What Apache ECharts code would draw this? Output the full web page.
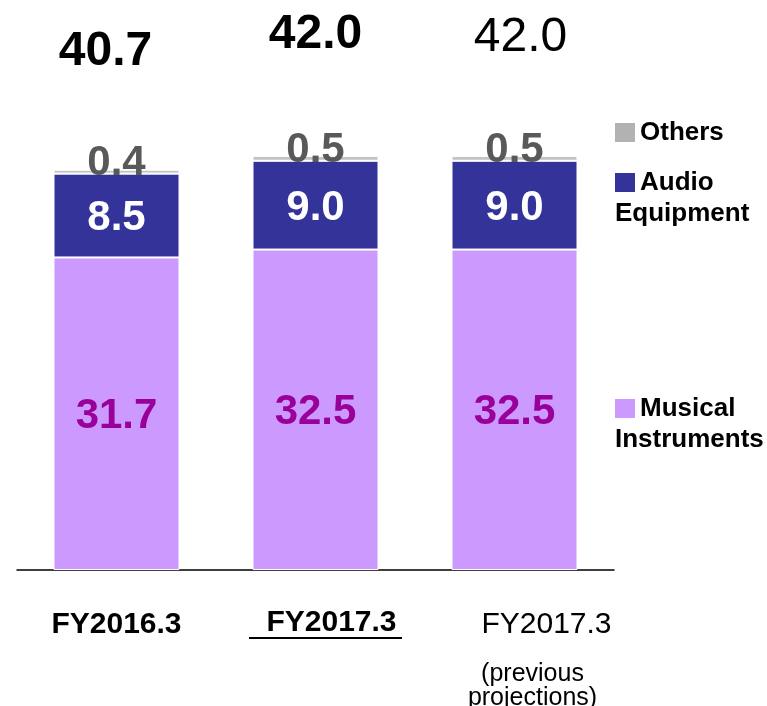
<!DOCTYPE html>
<html>
<head>
<meta charset="utf-8">
<script src="https://cdn.jsdelivr.net/npm/echarts@6/dist/echarts.min.js"></script>
<style>
  html, body { margin: 0; padding: 0; background: #fff; }
  #main { width: 767px; height: 706px; }
</style>
</head>
<body>
<div id="main"></div>
<script>
// 数据
var categories = ['FY2016.3', 'FY2017.3', 'FY2017.3'];
var musical = [31.7, 32.5, 32.5];
var audio = [8.5, 9.0, 9.0];
var others = [0.4, 0.5, 0.5];
var totals = [40.7, 42.0, 42.0];
var seriesNames = ['Others', 'Audio Equipment', 'Musical Instruments'];

var FONT = '"Liberation Sans", Arial, sans-serif';
var colors = {
    musical: '#cc99ff',
    audio: '#333399',
    others: '#c4c4c4',
    othersKey: '#b2b2b2'
};

var fmt = function(p){ return p.value.toFixed(1); };

var segLabel = function(color, offset){
    return {
        show: true,
        position: 'inside',
        formatter: fmt,
        color: color,
        fontFamily: FONT,
        fontWeight: 'bold',
        fontSize: 42,
        offset: offset || [0, 0]
    };
};

// 顶部合计
var totalStyle = [
    { weight: 'bold', offset: [-11, -117] },
    { weight: 'bold', offset: [0, -121] },
    { weight: 'normal', offset: [6, -118] }
];
var totalData = totals.map(function(v, i){
    return {
        value: v,
        label: { fontWeight: totalStyle[i].weight, offset: totalStyle[i].offset }
    };
});

// 图例文字
var legendText = {
    'Others': '{sw0| }{f|Others}',
    'Audio Equipment': '{sw1| }{f|Audio}\n{t|Equipment}',
    'Musical Instruments': '{sw2| }{f|Musical}\n{t|Instruments}'
};
var legendRich = {
    sw0: { width: 20, height: 19, backgroundColor: colors.othersKey },
    sw1: { width: 20, height: 19, backgroundColor: colors.audio },
    sw2: { width: 20, height: 19, backgroundColor: colors.musical },
    f: { fontFamily: FONT, fontWeight: 'bold', fontSize: 26, lineHeight: 31, color: '#000', padding: [0, 0, 0, 5] },
    t: { fontFamily: FONT, fontWeight: 'bold', fontSize: 26, lineHeight: 31, color: '#000' }
};
var makeLegend = function(name, top){
    return {
        data: [name],
        left: 609,
        top: top,
        orient: 'vertical',
        padding: 0,
        itemWidth: 0,
        itemHeight: 0,
        icon: 'rect',
        selectedMode: false,
        formatter: function(n){ return legendText[n]; },
        textStyle: { fontFamily: FONT, lineHeight: 31, rich: legendRich }
    };
};

// 横轴标签
var catLabels = [
    '{a|FY2016.3}',
    '{b|FY2017.3}\n{sp| }{u| }',
    '{c|FY2017.3}\n{s| }\n{p|(previous}\n{p|projections)}'
];

var myChart = echarts.init(document.getElementById('main'));
var option = {
    animation: false,
    grid: { left: 17, right: 153, top: 77, bottom: 136, outerBoundsMode: 'none' },
    legend: [
        makeLegend(seriesNames[0], 117),
        makeLegend(seriesNames[1], 167),
        makeLegend(seriesNames[2], 393)
    ],
    xAxis: {
        type: 'category',
        data: categories,
        axisTick: { show: false },
        axisLine: { lineStyle: { color: '#000', width: 1.5 } },
        axisLabel: {
            margin: 39,
            interval: 0,
            formatter: function(v, i){ return catLabels[i]; },
            rich: {
                a: { fontFamily: FONT, fontWeight: 'bold', fontSize: 30, lineHeight: 32, color: '#000' },
                b: { fontFamily: FONT, fontWeight: 'bold', fontSize: 30, lineHeight: 28, color: '#000', padding: [0, 0, 0, 32] },
                sp: { width: 20, height: 2, lineHeight: 2 },
                u: { width: 153, height: 2, lineHeight: 2, backgroundColor: '#000' },
                c: { fontFamily: FONT, fontSize: 30, lineHeight: 32, color: '#000', padding: [0, 0, 0, 64] },
                s: { fontSize: 10, lineHeight: 21 },
                p: { fontFamily: FONT, fontSize: 25, lineHeight: 24, color: '#000', padding: [0, 0, 0, 36] }
            }
        }
    },
    yAxis: {
        type: 'value',
        min: 0,
        max: 50,
        show: false,
        splitLine: { show: false }
    },
    series: [
        {
            name: seriesNames[2],
            type: 'bar',
            stack: 'total',
            barWidth: 126,
            data: musical,
            itemStyle: { color: colors.musical, borderColor: '#fff', borderWidth: 1 },
            label: segLabel('#990099', [0, 3])
        },
        {
            name: seriesNames[1],
            type: 'bar',
            stack: 'total',
            barWidth: 126,
            data: audio,
            itemStyle: { color: colors.audio, borderColor: '#fff', borderWidth: 1 },
            label: segLabel('#fff', [0, 3])
        },
        {
            name: seriesNames[0],
            type: 'bar',
            stack: 'total',
            barWidth: 126,
            data: others,
            itemStyle: { color: colors.others, borderColor: '#fff', borderWidth: 1 },
            label: segLabel('#595959', [0, -8])
        },
        {
            name: 'Total',
            type: 'scatter',
            symbolSize: 0,
            data: totalData,
            silent: true,
            itemStyle: { opacity: 1 },
            label: {
                show: true,
                position: 'inside',
                formatter: fmt,
                color: '#000',
                fontFamily: FONT,
                fontSize: 48
            }
        }
    ]
};
myChart.setOption(option);
</script>
</body>
</html>
